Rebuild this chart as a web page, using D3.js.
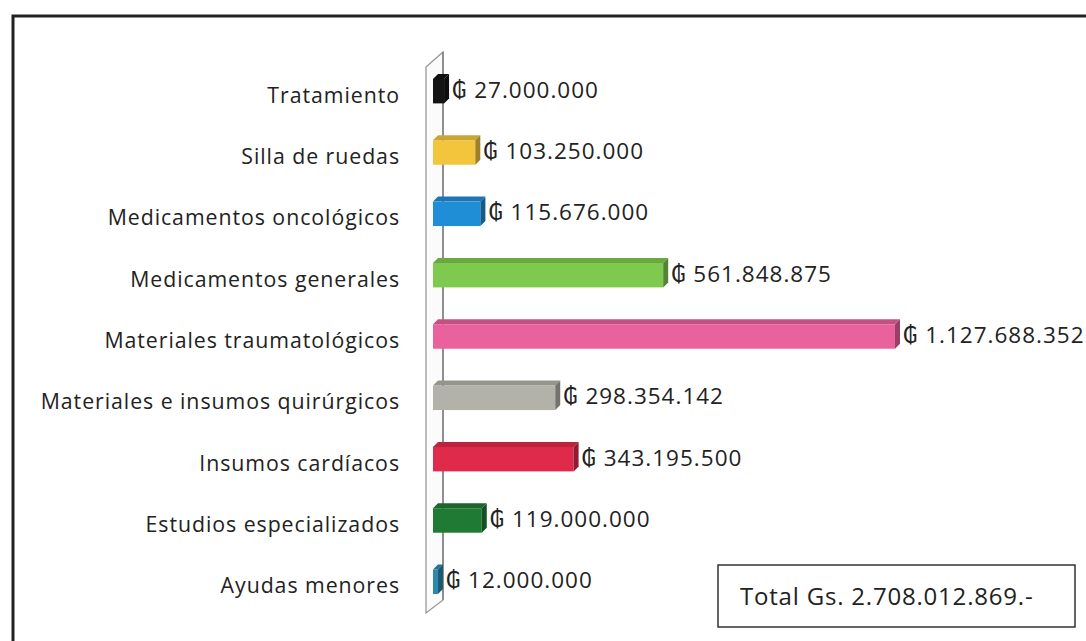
<!DOCTYPE html>
<html>
<head>
<meta charset="utf-8">
<script src="https://cdn.jsdelivr.net/npm/d3@7"></script>
<style>
  body { margin: 0; background: #fff; }
  text { font-family: "Open Sans", "DejaVu Sans", sans-serif; fill: #222; }
</style>
</head>
<body>
<script>
// chart data
var categories = [
    'Tratamiento',
    'Silla de ruedas',
    'Medicamentos oncológicos',
    'Medicamentos generales',
    'Materiales traumatológicos',
    'Materiales e insumos quirúrgicos',
    'Insumos cardíacos',
    'Estudios especializados',
    'Ayudas menores'
];
var values = [27000000, 103250000, 115676000, 561848875, 1127688352, 298354142, 343195500, 119000000, 12000000];
var palette = ['#141414', '#f2c53d', '#1f8ed6', '#7fc94e', '#e9629d', '#b2b2a9', '#df2a4b', '#1f7a33', '#2b87ad'];

window.onload = function () {
    var w = 1086,
        h = 641,
        depth = 5;

    var svg = d3.select('body').append('svg')
        .attr('width', w)
        .attr('height', h);

    // outer frame (runs off the right and bottom edges)
    svg.append('path')
        .attr('d', 'M13,' + (h + 5) + ' L13,16 L' + (w + 5) + ',16')
        .attr('fill', 'none')
        .attr('stroke', '#222')
        .attr('stroke-width', 3);

    var rows = categories.map(function (c, i) {
        return { name: c, value: values[i], color: palette[i] };
    });

    var x = d3.scaleLinear()
        .domain([0, d3.max(values)])
        .range([433, 895]);

    var y = d3.scaleBand()
        .domain(categories)
        .range([58, 610])
        .paddingInner(0.52)
        .paddingOuter(0.26);

    var fmt = d3.formatLocale({ decimal: ',', thousands: '.', grouping: [3], currency: ['', ''] }).format(',d');

    // 3D axis wall
    var x0 = x(0);
    svg.append('path')
        .attr('class', 'wall')
        .attr('d', 'M' + (x0 - 7) + ',613 L' + (x0 - 7) + ',67 L' + (x0 + 10) + ',52 L' + (x0 + 10) + ',600 Z')
        .attr('fill', '#fbfbfb')
        .attr('stroke', '#999')
        .attr('stroke-width', 1.3);
    svg.append('line')
        .attr('x1', x0 + 10).attr('x2', x0 + 10)
        .attr('y1', 52).attr('y2', 600)
        .attr('stroke', '#777')
        .attr('stroke-width', 1.3);

    var bars = svg.selectAll('.bar')
        .data(rows)
        .enter()
        .append('g')
        .attr('class', 'bar');

    // front face
    bars.append('rect')
        .attr('x', x0)
        .attr('y', function (d) { return y(d.name) + depth; })
        .attr('width', function (d) { return Math.max(1, x(d.value) - x0); })
        .attr('height', y.bandwidth() - depth)
        .attr('fill', function (d) { return d.color; });

    // top face
    bars.append('path')
        .attr('d', function (d) {
            var t = y(d.name) + depth, r = x(d.value);
            return 'M' + x0 + ',' + t + ' L' + (x0 + depth) + ',' + (t - depth) +
                ' L' + (r + depth) + ',' + (t - depth) + ' L' + r + ',' + t + ' Z';
        })
        .attr('fill', function (d) { return d3.color(d.color).darker(0.5); });

    // end face
    bars.append('path')
        .attr('d', function (d) {
            var t = y(d.name) + depth, b = y(d.name) + y.bandwidth(), r = x(d.value);
            return 'M' + r + ',' + t + ' L' + (r + depth) + ',' + (t - depth) +
                ' L' + (r + depth) + ',' + (b - depth) + ' L' + r + ',' + b + ' Z';
        })
        .attr('fill', function (d) { return d3.color(d.color).darker(1.2); });

    // category labels
    svg.selectAll('.cat')
        .data(rows)
        .enter()
        .append('text')
        .attr('class', 'cat')
        .attr('x', 400)
        .attr('y', function (d) { return y(d.name) + y.bandwidth() / 2 + 14; })
        .attr('text-anchor', 'end')
        .style('font-size', '21.3px')
        .style('letter-spacing', '0.95px')
        .text(function (d) { return d.name; });

    // value labels
    svg.selectAll('.val')
        .data(rows)
        .enter()
        .append('text')
        .attr('class', 'val')
        .attr('x', function (d) { return x(d.value) + depth + 3; })
        .attr('y', function (d) { return y(d.name) + y.bandwidth() / 2 + 9; })
        .style('font-size', '22.5px')
        .style('letter-spacing', '1px')
        .text(function (d) { return '\u20B2 ' + fmt(d.value); });

    // total box
    svg.append('rect')
        .attr('x', 718)
        .attr('y', 565)
        .attr('width', 357)
        .attr('height', 62)
        .attr('fill', '#fff')
        .attr('stroke', '#333')
        .attr('stroke-width', 1.5);
    svg.append('text')
        .attr('x', 740)
        .attr('y', 605)
        .style('font-size', '24px')
        .style('letter-spacing', '0.8px')
        .text('Total Gs. ' + fmt(d3.sum(values)) + '.-');
};
</script>
</body>
</html>
